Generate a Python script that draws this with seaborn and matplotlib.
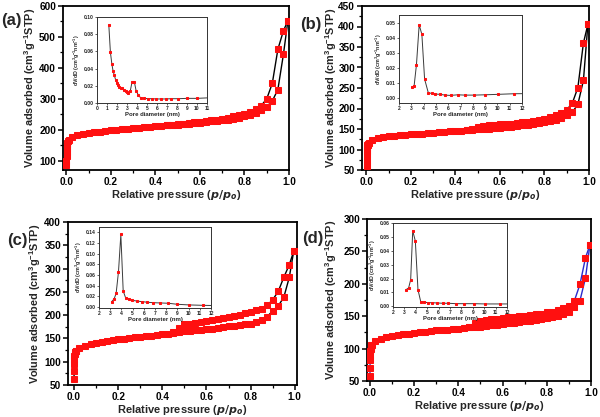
import numpy as np
import pandas as pd
import matplotlib
matplotlib.use("Agg")
import matplotlib.pyplot as plt
from matplotlib.ticker import MultipleLocator
import seaborn as sns

sns.set_theme(style="ticks")
plt.rcParams['font.family'] = ['Liberation Sans', 'DejaVu Sans']
plt.rcParams['font.weight'] = 'bold'
plt.rcParams['axes.labelweight'] = 'bold'
plt.rcParams['mathtext.default'] = 'regular'

# ---------------- data ----------------
P_LOW = [0.0003, 0.0006, 0.001, 0.0015, 0.002, 0.003, 0.004, 0.005, 0.007, 0.01]
P_ADS = [0.025, 0.05, 0.075, 0.1, 0.125, 0.15, 0.175, 0.2, 0.225, 0.25, 0.275, 0.3,
         0.325, 0.35, 0.375, 0.4, 0.425, 0.45, 0.475, 0.5, 0.525, 0.55, 0.575, 0.6,
         0.625, 0.65, 0.675, 0.7, 0.725, 0.75, 0.775, 0.8, 0.825, 0.85, 0.875, 0.9,
         0.925, 0.95, 0.975, 0.995]
P_DES = [0.995, 0.975, 0.95, 0.925, 0.9, 0.875, 0.85, 0.825, 0.8, 0.775, 0.75, 0.725,
         0.7, 0.675, 0.65, 0.625, 0.6, 0.575, 0.55, 0.525, 0.5, 0.475, 0.45]

# (a)
A_low = [85, 100, 115, 127, 137, 146, 153, 158, 163, 168]
A_ads = [178, 183, 187, 190, 192, 194, 196, 198, 200, 202, 203, 205, 206, 208, 209, 211,
         212, 214, 215, 217, 218, 220, 222, 223, 225, 227, 229, 231, 233, 236, 239, 243,
         248, 255, 264, 275, 293, 330, 444, 552]
A_des = [552, 520, 460, 350, 300, 278, 266, 258, 252, 247, 243, 239, 236, 233, 231, 228,
         226, 224, 222, 220, 219, 217, 214]
# (b)
B_low = [60, 75, 88, 97, 103, 107, 110, 112, 114, 116]
B_ads = [124, 128, 131, 133, 134, 135, 136, 137, 138, 139, 140, 141, 142, 143, 144, 145,
         146, 147, 148, 149, 150, 151, 152, 153, 155, 156, 157, 159, 160, 162, 164, 166,
         169, 173, 177, 183, 191, 210, 269, 405]
B_des = [405, 360, 251, 213, 197, 189, 183, 179, 175, 172, 170, 168, 166, 165, 163, 162,
         161, 160, 159, 157, 156, 150, 147]
# (c)
C_low = [62, 80, 95, 105, 112, 116, 119, 121, 122, 124]
C_ads = [129, 134, 137, 140, 142, 144, 146, 148, 149, 151, 152, 154, 155, 156, 157, 159,
         160, 162, 163, 166, 167, 168, 169, 170, 171, 173, 174, 176, 177, 179, 181, 182,
         186, 189, 197, 209, 220, 238, 281, 337]
C_des = [337, 308, 281, 251, 233, 221, 214, 210, 206, 204, 201, 199, 196, 194, 192, 190,
         188, 186, 184, 182, 180, 172, 163]
# (d)
D_low = [58, 70, 82, 90, 96, 100, 102, 104, 105, 106]
D_ads = [111, 115, 118, 120, 121, 122, 123, 124, 125, 126, 127, 128, 128.5, 129, 130, 131,
         132, 133, 133.5, 134, 135, 136, 137, 138, 139, 140, 141, 142, 143, 144, 145, 147,
         148, 150, 153, 157, 164, 174, 209, 260]
D_des = [260, 240, 199, 174, 166, 162, 159, 157, 156, 154, 153, 152, 151, 150, 149, 148,
         147, 146, 145, 144, 143, 140, 134]

# insets: pore size distributions
A_pd = [1.18, 1.34, 1.49, 1.61, 1.74, 1.86, 1.99, 2.11, 2.24, 2.39, 2.55, 2.7, 2.86, 3.01,
        3.14, 3.32, 3.51, 3.73, 3.91, 4.13, 4.38, 4.72, 5.09, 5.5, 5.93, 6.4, 6.9, 7.42,
        8.1, 9.0, 10.0, 11.5]
A_dv = [0.091, 0.059, 0.045, 0.037, 0.032, 0.027, 0.0236, 0.0205, 0.0182, 0.0178, 0.0178,
        0.0147, 0.0143, 0.0128, 0.0116, 0.0136, 0.0248, 0.0248, 0.0143, 0.0093, 0.0058,
        0.0054, 0.005, 0.005, 0.0047, 0.0047, 0.0047, 0.005, 0.005, 0.0054, 0.0054, 0.0062]
B_pd = [3.04, 3.23, 3.42, 3.64, 3.86, 4.08, 4.38, 4.66, 4.96, 5.34, 5.75, 6.19, 6.77, 7.37,
        8.11, 8.96, 10.03, 11.34, 12.5]
B_dv = [0.0073, 0.0084, 0.0223, 0.0485, 0.0422, 0.0128, 0.0038, 0.0033, 0.0029, 0.0027,
        0.0022, 0.002, 0.0024, 0.0022, 0.0022, 0.0024, 0.0027, 0.0031, 0.0032]
C_pd = [3.14, 3.35, 3.53, 3.74, 3.95, 4.16, 4.37, 4.69, 4.99, 5.38, 5.83, 6.31, 6.82, 7.45,
        8.2, 8.98, 10.0, 11.31, 12.5]
C_dv = [0.010, 0.015, 0.0256, 0.066, 0.136, 0.030, 0.0175, 0.0144, 0.0125, 0.011, 0.010,
        0.0088, 0.008, 0.0075, 0.0069, 0.005, 0.0038, 0.003, 0.0025]
D_pd = [3.14, 3.37, 3.55, 3.73, 3.96, 4.19, 4.43, 4.72, 5.07, 5.45, 5.86, 6.36, 6.85, 7.5,
        8.2, 9.08, 10.1, 11.36, 12.5]
D_dv = [0.012, 0.0132, 0.0192, 0.0544, 0.047, 0.012, 0.0034, 0.0031, 0.0026, 0.0026, 0.0024,
        0.0022, 0.0022, 0.0019, 0.0019, 0.0019, 0.0017, 0.0017, 0.0017]

PANELS = [
    dict(tag='(a)', low=A_low, ads=A_ads, des=A_des, ylim=(70, 600), ymaj=100,
         pd=A_pd, dv=A_dv, ixlim=(0, 11), iylim=(0, 0.10), iymaj=0.02, ifmt='%.2f',
         lc='black'),
    dict(tag='(b)', low=B_low, ads=B_ads, des=B_des, ylim=(50, 450), ymaj=50,
         pd=B_pd, dv=B_dv, ixlim=(2, 12), iylim=(-0.003, 0.055), iymaj=0.01, ifmt='%.2f',
         lc='black'),
    dict(tag='(c)', low=C_low, ads=C_ads, des=C_des, ylim=(50, 400), ymaj=50,
         pd=C_pd, dv=C_dv, ixlim=(2, 12), iylim=(-0.002, 0.15), iymaj=0.02, ifmt='%.2f',
         lc='black'),
    dict(tag='(d)', low=D_low, ads=D_ads, des=D_des, ylim=(50, 300), ymaj=50,
         pd=D_pd, dv=D_dv, ixlim=(2, 12), iylim=(-0.0005, 0.06), iymaj=0.01, ifmt='%.2f',
         lc='#2a2acc'),
]

# layout (pixels: left, top, right, bottom) for main axes and insets
W, H = 600, 417
MAIN_BOX = [(63, 6, 289, 170), (362, 6, 589, 170), (68, 222, 297, 385), (367, 219, 591, 381)]
INS_BOX = [(97, 17, 207, 103), (399, 15, 522, 103), (99, 227, 211, 308), (393, 223, 507, 307)]
TAG_POS = [(11, 20), (311, 25), (17, 240), (313, 238)]
YLAB_X = [38, 339, 43, 339]   # right edge of rotated y label, in pixels
XLIMS = [(-0.015, 1.0), (-0.02, 1.0), (-0.027, 1.01), (-0.013, 1.0)]


def box(b):
    l, t, r, bt = b
    return [l / W, 1 - bt / H, (r - l) / W, (bt - t) / H]


fig = plt.figure(figsize=(6.0, 4.17), dpi=100)

for i, P in enumerate(PANELS):
    ax = fig.add_axes(box(MAIN_BOX[i]))
    ads_df = pd.DataFrame({'p': P_LOW + P_ADS, 'v': P['low'] + P['ads']})
    des_df = pd.DataFrame({'p': P_DES, 'v': P['des']})
    for df in (ads_df, des_df):
        sns.lineplot(data=df, x='p', y='v', sort=False, estimator=None, ax=ax,
                     color=P['lc'], linewidth=1.0, marker='s', markersize=4.2,
                     markerfacecolor='#ff1010', markeredgecolor='#ff1010', zorder=3)
    ax.set_xlim(*XLIMS[i])
    ax.set_ylim(*P['ylim'])
    ax.xaxis.set_major_locator(MultipleLocator(0.2))
    ax.xaxis.set_minor_locator(MultipleLocator(0.1))
    ax.yaxis.set_major_locator(MultipleLocator(P['ymaj']))
    ax.yaxis.set_minor_locator(MultipleLocator(P['ymaj'] / 2))
    ax.xaxis.set_major_formatter(matplotlib.ticker.FormatStrFormatter('%.1f'))
    for s in ax.spines.values():
        s.set_visible(True)
        s.set_linewidth(1.3)
        s.set_color('black')
    ax.tick_params(which='major', direction='out', length=3.5, width=1.1,
                   labelsize=7.2, pad=1.5, colors='black')
    ax.tick_params(which='minor', direction='out', length=2, width=0.9, colors='black')
    for lab in ax.get_xticklabels() + ax.get_yticklabels():
        lab.set_fontweight('bold')
    ax.set_xlabel(r'Relative pressure ($\mathit{p/p_o}$)', fontsize=8, fontweight='bold',
                  labelpad=1)
    ax.set_ylabel(r'Volume adsorbed (cm$^{3}$g$^{-1}$STP)', fontsize=7.8, fontweight='bold')
    l, t, r, bt = MAIN_BOX[i]
    ax.yaxis.set_label_coords((YLAB_X[i] - l) / (r - l), 0.5)
    ax.set_facecolor('white')
    fig.text(TAG_POS[i][0] / W, 1 - TAG_POS[i][1] / H, P['tag'], fontsize=12,
             fontweight='bold', ha='center', va='center')

    # inset
    ia = fig.add_axes(box(INS_BOX[i]))
    idf = pd.DataFrame({'d': P['pd'], 'dv': P['dv']})
    sns.lineplot(data=idf, x='d', y='dv', sort=False, estimator=None, ax=ia,
                 color='#3a3a3a', linewidth=0.7, marker='s', markersize=1.8,
                 markerfacecolor='#ff1010', markeredgecolor='#ff1010')
    ia.set_xlim(*P['ixlim'])
    ia.set_ylim(*P['iylim'])
    ia.xaxis.set_major_locator(MultipleLocator(1))
    ia.yaxis.set_major_locator(MultipleLocator(P['iymaj']))
    ia.yaxis.set_major_formatter(matplotlib.ticker.FormatStrFormatter(P['ifmt']))
    for s in ia.spines.values():
        s.set_visible(True)
        s.set_linewidth(0.7)
        s.set_color('#333333')
    ia.tick_params(which='major', direction='out', length=1.5, width=0.5,
                   labelsize=3.6, pad=1, colors='#222222')
    ia.set_xlabel('Pore diameter (nm)', fontsize=4.3, fontweight='bold', labelpad=0.5)
    ia.set_ylabel(r'dV/dD (cm$^{3}$g$^{-1}$nm$^{-1}$)', fontsize=3.8, fontweight='bold',
                  labelpad=1)
    ia.set_facecolor('white')

fig.savefig('out.png', dpi=100, facecolor='white')
